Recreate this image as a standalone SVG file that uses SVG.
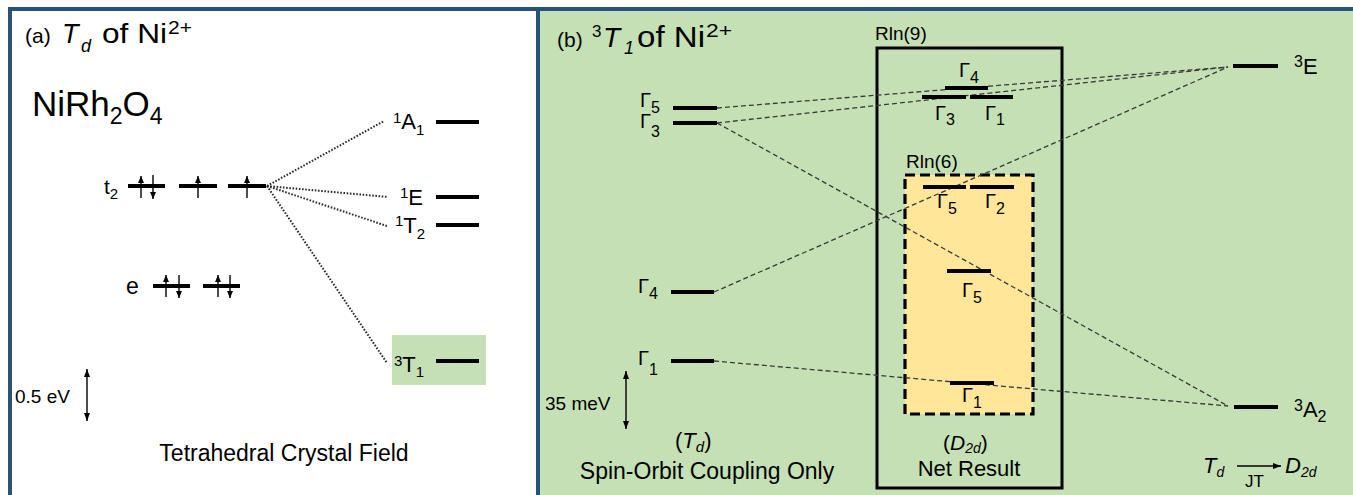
<svg xmlns="http://www.w3.org/2000/svg" width="1353" height="495" viewBox="0 0 1353 495">
<defs>
<style>
text{font-family:"Liberation Sans",Arial,sans-serif;fill:#000}
.lv{stroke:#000;stroke-width:4;fill:none}
.sp{stroke:#000;stroke-width:1.4;fill:none;marker-end:url(#ah)}
.dot{stroke:#2a2a2a;stroke-width:2;stroke-dasharray:1.6 1.6;fill:none}
.dsh{stroke:#3a3a3a;stroke-width:1.3;stroke-dasharray:5 3;fill:none}
.thin{stroke:#000;stroke-width:1.4;fill:none}
.g{font-size:20px}
.gs{font-size:16px}
.it{font-style:italic}
</style>
<marker id="ah" viewBox="0 0 7 6" refX="7" refY="3" markerWidth="7" markerHeight="6" markerUnits="userSpaceOnUse" orient="auto">
<path d="M0,0 L7,3 L0,6 z" fill="#000"/>
</marker>
<marker id="ahs" viewBox="0 0 8 6" refX="8" refY="3" markerWidth="8" markerHeight="6" markerUnits="userSpaceOnUse" orient="auto-start-reverse">
<path d="M0,0 L8,3 L0,6 z" fill="#000"/>
</marker>
</defs>

<rect x="0" y="0" width="1353" height="495" fill="#fff"/>
<g id="frame">
<rect x="12" y="11" width="524" height="490" fill="#fff"/>
<rect x="540" y="11" width="815" height="490" fill="#c5e0b4"/>
<rect x="10" y="9" width="1350" height="500" fill="none" stroke="#29517a" stroke-width="4"/>
<line x1="538" y1="9" x2="538" y2="495" stroke="#29517a" stroke-width="4"/>
</g>

<!-- Panel (a) -->
<g id="title-a">
<text x="25" y="43" font-size="21">(a)</text>
<text x="62" y="43" font-size="27" class="it">T</text>
<text x="81" y="52" font-size="18" class="it">d</text>
<text x="102" y="43" font-size="28" textLength="65" lengthAdjust="spacingAndGlyphs">of Ni</text>
<text x="168" y="34" font-size="18" textLength="24" lengthAdjust="spacingAndGlyphs">2+</text>
</g>
<g id="formula">
<text x="32" y="116" font-size="35">NiRh<tspan font-size="23" dy="8">2</tspan><tspan dy="-8">O</tspan><tspan font-size="23" dy="8">4</tspan></text>
</g>

<g id="t2-level">
<text x="104" y="194" font-size="21">t<tspan font-size="15" dy="5">2</tspan></text>
<line class="lv" x1="128" y1="186" x2="165" y2="186"/>
<line class="lv" x1="179" y1="186" x2="217" y2="186"/>
<line class="lv" x1="228" y1="186" x2="266" y2="186"/>
<line class="sp" x1="141" y1="198" x2="141" y2="176"/>
<line class="sp" x1="153" y1="175" x2="153" y2="199"/>
<line class="sp" x1="198" y1="198" x2="198" y2="176"/>
<line class="sp" x1="247" y1="198" x2="247" y2="176"/>
</g>

<g id="e-level">
<text x="126" y="294" font-size="23">e</text>
<line class="lv" x1="153" y1="286" x2="190" y2="286"/>
<line class="lv" x1="203" y1="286" x2="240" y2="286"/>
<line class="sp" x1="166" y1="297" x2="166" y2="275"/>
<line class="sp" x1="179" y1="275" x2="179" y2="298"/>
<line class="sp" x1="218" y1="297" x2="218" y2="275"/>
<line class="sp" x1="230" y1="275" x2="230" y2="298"/>
</g>

<g id="A1-level">
<text x="393" y="123" font-size="15">1<tspan font-size="22" dy="6">A</tspan><tspan dy="6">1</tspan></text>
<line class="lv" x1="436" y1="122" x2="479" y2="122"/>
</g>
<g id="E1-level">
<text x="400" y="198" font-size="15">1<tspan font-size="22" dy="7">E</tspan></text>
<line class="lv" x1="436" y1="197" x2="479" y2="197"/>
</g>
<g id="T2-level">
<text x="395" y="226" font-size="15">1<tspan font-size="22" dy="7">T</tspan><tspan dy="6">2</tspan></text>
<line class="lv" x1="436" y1="225" x2="479" y2="225"/>
</g>
<g id="T1-level">
<rect x="392" y="335" width="94" height="50" fill="#c5e0b4"/>
<text x="394" y="366" font-size="15">3<tspan font-size="22" dy="6">T</tspan><tspan dy="5">1</tspan></text>
<line class="lv" x1="436" y1="361" x2="479" y2="361"/>
</g>

<g id="scale-a">
<text x="15" y="403" font-size="19">0.5 eV</text>
<line class="thin" x1="87" y1="369" x2="87" y2="421" marker-start="url(#ahs)" marker-end="url(#ahs)"/>
</g>
<text id="caption-a" x="284" y="461" font-size="23" text-anchor="middle">Tetrahedral Crystal Field</text>

<!-- Panel (b) -->
<g id="title-b">
<text x="557" y="47" font-size="21">(b)</text>
<text x="592" y="37" font-size="17">3</text>
<text x="603" y="47" font-size="28" class="it">T</text>
<text x="624" y="54" font-size="18" class="it">1</text>
<text x="637" y="47" font-size="29" textLength="68" lengthAdjust="spacingAndGlyphs">of Ni</text>
<text x="706" y="37" font-size="18" textLength="26" lengthAdjust="spacingAndGlyphs">2+</text>
</g>

<g id="box-rln9">
<rect x="877" y="48" width="185" height="440" fill="none" stroke="#000" stroke-width="3"/>
<text x="875" y="40" font-size="19">Rln(9)</text>
</g>
<g id="box-rln6">
<rect x="905" y="175" width="128" height="239" fill="#ffe699" stroke="#000" stroke-width="3.2" stroke-dasharray="10 5"/>
<text x="906" y="168" font-size="19">Rln(6)</text>
</g>

<g id="connectors">
<line class="dot" x1="267" y1="186" x2="384" y2="121"/>
<line class="dot" x1="267" y1="186" x2="388" y2="197"/>
<line class="dot" x1="267" y1="186" x2="387" y2="226"/>
<line class="dot" x1="267" y1="186" x2="387" y2="363"/>
<line class="dsh" x1="717" y1="108" x2="1228" y2="67"/>
<line class="dsh" x1="717" y1="123" x2="1228" y2="67"/>
<line class="dsh" x1="717" y1="123" x2="1228" y2="406"/>
<line class="dsh" x1="714" y1="292" x2="1228" y2="67"/>
<line class="dsh" x1="714" y1="361" x2="1228" y2="406"/>
</g>

<g id="G5-left">
<text x="640" y="107" class="g">Γ<tspan class="gs" dy="6">5</tspan></text>
<line class="lv" x1="673" y1="108" x2="717" y2="108"/>
</g>
<g id="G3-left">
<text x="640" y="128" class="g">Γ<tspan class="gs" dy="9">3</tspan></text>
<line class="lv" x1="673" y1="123" x2="717" y2="123"/>
</g>
<g id="G4-left">
<text x="638" y="293" class="g">Γ<tspan class="gs" dy="6">4</tspan></text>
<line class="lv" x1="671" y1="292" x2="714" y2="292"/>
</g>
<g id="G1-left">
<text x="638" y="365" class="g">Γ<tspan class="gs" dy="10">1</tspan></text>
<line class="lv" x1="671" y1="361" x2="714" y2="361"/>
</g>
<g id="scale-b">
<text x="545" y="410" font-size="19">35 meV</text>
<line class="thin" x1="626" y1="371" x2="626" y2="429" marker-start="url(#ahs)" marker-end="url(#ahs)"/>
</g>
<g id="caption-td">
<text x="675" y="448" font-size="22">(<tspan class="it">T</tspan><tspan class="it" font-size="15" dy="4">d</tspan><tspan dy="-4">)</tspan></text>
<text x="707" y="479" font-size="23" text-anchor="middle">Spin-Orbit Coupling Only</text>
</g>

<g id="G4-box">
<text x="959" y="77" class="g">Γ<tspan class="gs" dy="6">4</tspan></text>
<line class="lv" x1="945" y1="88" x2="988" y2="88"/>
</g>
<g id="G3-box">
<text x="935" y="120" class="g">Γ<tspan class="gs" dy="5">3</tspan></text>
<line class="lv" x1="922" y1="97" x2="966" y2="97"/>
</g>
<g id="G1-box-top">
<text x="985" y="120" class="g">Γ<tspan class="gs" dy="5">1</tspan></text>
<line class="lv" x1="970" y1="97" x2="1013" y2="97"/>
</g>
<g id="G5-box-top">
<text x="937" y="208" class="g">Γ<tspan class="gs" dy="6">5</tspan></text>
<line class="lv" x1="923" y1="187" x2="966" y2="187"/>
</g>
<g id="G2-box">
<text x="985" y="208" class="g">Γ<tspan class="gs" dy="6">2</tspan></text>
<line class="lv" x1="970" y1="187" x2="1014" y2="187"/>
</g>
<g id="G5-box-mid">
<text x="962" y="297" class="g">Γ<tspan class="gs" dy="6">5</tspan></text>
<line class="lv" x1="947" y1="271" x2="991" y2="271"/>
</g>
<g id="G1-box-bot">
<text x="962" y="402" class="g">Γ<tspan class="gs" dy="6">1</tspan></text>
<line class="lv" x1="950" y1="383" x2="994" y2="383"/>
</g>
<g id="caption-d2d">
<text x="943" y="450" font-size="21">(<tspan class="it">D</tspan><tspan class="it" font-size="14" dy="3">2d</tspan><tspan dy="-3">)</tspan></text>
<text x="969" y="476" font-size="22" text-anchor="middle">Net Result</text>
</g>

<g id="E3-level">
<line class="lv" x1="1233" y1="66" x2="1278" y2="66"/>
<text x="1294" y="67" font-size="16">3<tspan font-size="22" dy="7">E</tspan></text>
</g>
<g id="A2-level">
<line class="lv" x1="1234" y1="407" x2="1278" y2="407"/>
<text x="1294" y="411" font-size="16">3<tspan font-size="22" dy="6">A</tspan><tspan dy="5">2</tspan></text>
</g>
<g id="jt-label">
<text x="1203" y="473" font-size="22" class="it">T<tspan font-size="14" dy="4">d</tspan></text>
<line class="thin" x1="1237" y1="466" x2="1281" y2="466" marker-end="url(#ahs)"/>
<text x="1245" y="487" font-size="17">JT</text>
<text x="1285" y="473" font-size="22" class="it">D<tspan font-size="14" dy="4">2d</tspan></text>
</g>
</svg>
